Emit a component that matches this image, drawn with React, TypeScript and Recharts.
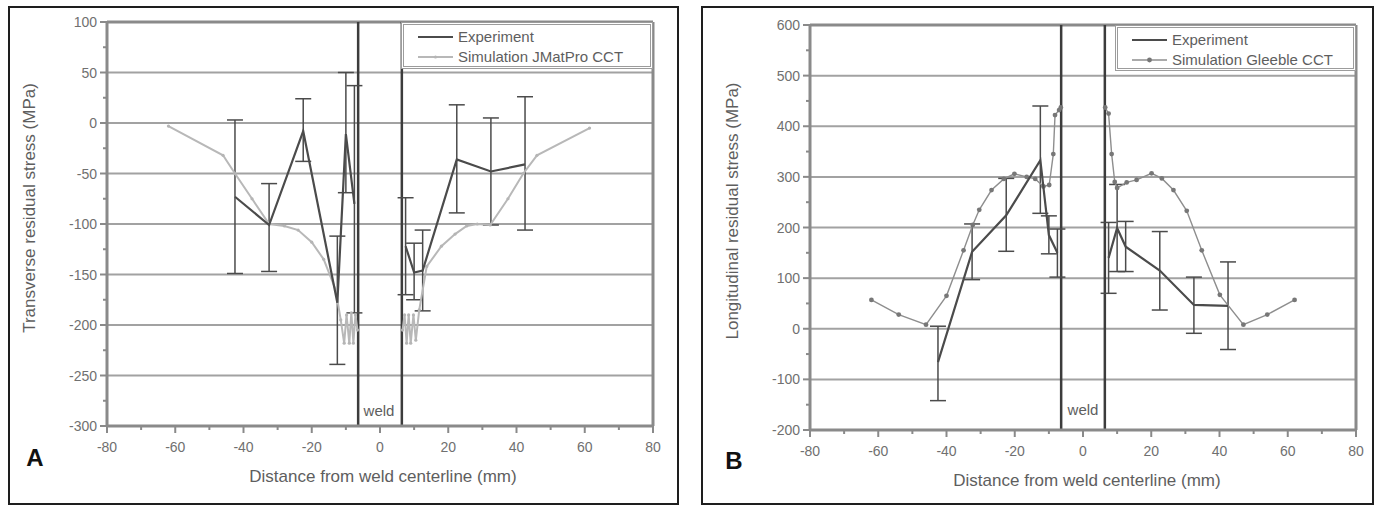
import React from "react";
import { ScatterChart, Scatter, XAxis, YAxis, ErrorBar, ReferenceLine } from "recharts";

const FONT = '"Liberation Sans", Arial, sans-serif';

const xTicks = [-80, -70, -60, -50, -40, -30, -20, -10, 0, 10, 20, 30, 40, 50, 60, 70, 80];
const xMajor = [-80, -60, -40, -20, 0, 20, 40, 60, 80];

const yTicksA = [-300, -275, -250, -225, -200, -175, -150, -125, -100, -75, -50, -25, 0, 25, 50, 75, 100];
const yMajorA = [-300, -250, -200, -150, -100, -50, 0, 50, 100];
const yTicksB = [-200, -150, -100, -50, 0, 50, 100, 150, 200, 250, 300, 350, 400, 450, 500, 550, 600];
const yMajorB = [-200, -100, 0, 100, 200, 300, 400, 500, 600];

const weldEdges = [-6.4, 6.4];

// Panel A - transverse, experiment
const expAL_x = [-42.5, -32.5, -22.5, -12.5, -10, -7.5];
const expAL_y = [-73, -101, -8, -178, -11, -80];
const expAL_top = [3, -60, 24, -112, 50, 37];
const expAL_bot = [-149, -147, -38, -239, -69, -188];
const expAR_x = [7.5, 10, 12.5, 22.5, 32.5, 42.5];
const expAR_y = [-122, -148, -146, -36, -48, -41];
const expAR_top = [-74, -119, -106, 18, 5, 26];
const expAR_bot = [-170, -175, -186, -89, -101, -106];

// Panel A - simulation JMatPro CCT
const simAL_x = [-62, -46, -42.5, -37.5, -32.5, -28, -24, -20, -16.5, -13, -11.5, -10.5, -9.8, -9, -8.4, -7.8, -7.2, -6.6];
const simAL_y = [-3, -32, -50, -75, -100, -102, -106, -118, -135, -165, -195, -218, -190, -218, -188, -218, -190, -205];
const simAR_x = [6.6, 7.2, 7.8, 8.4, 9, 9.8, 10.5, 11.5, 13.7, 18, 22, 25.4, 28.5, 32.3, 37.5, 42, 46, 61.4];
const simAR_y = [-205, -190, -218, -190, -218, -190, -215, -185, -142, -122, -110, -102, -100, -101, -75, -50, -32, -5];

// Panel B - longitudinal, experiment
const expBL_x = [-42.5, -32.5, -22.5, -12.5, -10, -7.5];
const expBL_y = [-66, 152, 224, 333, 185, 150];
const expBL_top = [5, 207, 297, 440, 223, 197];
const expBL_bot = [-142, 97, 153, 228, 148, 102];
const expBR_x = [7.5, 10, 12.5, 22.5, 32.5, 42.5];
const expBR_y = [140, 199, 162, 115, 47, 45];
const expBR_top = [210, 285, 212, 192, 102, 132];
const expBR_bot = [70, 113, 113, 37, -9, -41];

// Panel B - simulation Gleeble CCT
const simBL_x = [-62, -54, -46, -40, -35, -32.3, -30.4, -26.8, -23.2, -20.1, -16.5, -14, -11.6, -9.9, -8.7, -8.2, -7, -6.5];
const simBL_y = [57, 28, 8, 65, 155, 205, 235, 274, 296, 306, 300, 296, 281, 284, 345, 422, 432, 437];
const simBR_x = [6.5, 7.5, 8.4, 9.3, 10, 12.8, 15.7, 20.1, 23.1, 26.5, 30.4, 34.8, 40.1, 47, 54, 62];
const simBR_y = [437, 425, 345, 290, 278, 289, 294, 307, 297, 274, 233, 155, 67, 8, 28, 57];

const pts = (xs: number[], ys: number[]) => xs.map((x, i) => ({ x, y: ys[i] }));
const withErr = (xs: number[], ys: number[], tops: number[], bots: number[]) =>
  xs.map((x, i) => ({ x, y: ys[i], err: [ys[i] - bots[i], tops[i] - ys[i]] }));

const AXIS = "#8a8a8a";
const GRID = "#a2a2a2";
const EXP = "#4b4b4b";
const TEXT = "#5e5e5e";

const makeYTick = (major: number[]) => (props: any) => {
  const { x, y, payload } = props;
  const isMajor = major.includes(payload.value);
  return (
    <g>
      <line x1={x - (isMajor ? 7 : 4)} y1={y} x2={x} y2={y} stroke={AXIS} strokeWidth={2} />
      {isMajor && (
        <text x={x - 10} y={y} textAnchor="end" dominantBaseline="central" fontSize={14} fill="#707070" fontFamily={FONT}>
          {payload.value}
        </text>
      )}
    </g>
  );
};

const XTick = (props: any) => {
  const { x, y, payload } = props;
  const isMajor = xMajor.includes(payload.value);
  return (
    <g>
      <line x1={x} y1={y} x2={x} y2={y + (isMajor ? 7 : 4)} stroke={AXIS} strokeWidth={2} />
      {isMajor && (
        <text x={x} y={y + 21} textAnchor="middle" dominantBaseline="central" fontSize={14} fill="#707070" fontFamily={FONT}>
          {payload.value}
        </text>
      )}
    </g>
  );
};

const noShape = () => <g />;

interface PanelProps {
  box: { left: number; top: number; width: number; height: number };
  plot: { left: number; top: number; right: number; bottom: number };
  yDomain: [number, number];
  yTicks: number[];
  yMajor: number[];
  exp: { x: number; y: number; err: number[] }[][];
  sim: { x: number; y: number }[][];
  simColor: string;
  simWidth: number;
  simMarker: (p: any) => React.ReactElement;
  yTitle: string;
  yTitlePos: [number, number];
  xTitlePos: [number, number];
  letter: string;
  letterPos: [number, number];
  weldPos: [number, number];
  legend: { left: number; top: number; width: number; height: number };
  simLabel: string;
  markerColor: string;
  markerR: number;
}

function Panel(p: PanelProps) {
  const { box, plot } = p;
  return (
    <>
      <div
        style={{
          position: "absolute",
          left: box.left,
          top: box.top,
          width: box.width,
          height: box.height,
          border: "2px solid #1e1e1e",
          boxSizing: "border-box",
        }}
      />
      <div style={{ position: "absolute", left: box.left, top: box.top }}>
        <ScatterChart
          width={box.width}
          height={box.height}
          margin={{ top: plot.top - box.top, right: box.left + box.width - plot.right, left: 0, bottom: 0 }}
        >
          <XAxis
            type="number"
            dataKey="x"
            domain={[-80, 80]}
            ticks={xTicks}
            interval={0}
            height={box.top + box.height - plot.bottom}
            tickSize={0}
            tickMargin={0}
            tickLine={false}
            tick={XTick}
            axisLine={{ stroke: AXIS, strokeWidth: 3 }}
            allowDataOverflow
          />
          <YAxis
            type="number"
            dataKey="y"
            domain={p.yDomain}
            ticks={p.yTicks}
            interval={0}
            width={plot.left - box.left}
            tickSize={0}
            tickMargin={0}
            tickLine={false}
            tick={makeYTick(p.yMajor)}
            axisLine={{ stroke: AXIS, strokeWidth: 3 }}
            allowDataOverflow
          />
          {p.yMajor.slice(1, -1).map((v) => (
            <ReferenceLine key={v} y={v} stroke={GRID} strokeWidth={2} />
          ))}
          <ReferenceLine y={p.yDomain[1]} stroke={AXIS} strokeWidth={3} />
          <ReferenceLine x={80} stroke={AXIS} strokeWidth={3} />
          {weldEdges.map((w) => (
            <ReferenceLine key={w} x={w} stroke="#3c3c3c" strokeWidth={2.5} />
          ))}
          {p.sim.map((d, i) => (
            <Scatter
              key={"s" + i}
              data={d}
              line={{ stroke: p.simColor, strokeWidth: p.simWidth }}
              shape={p.simMarker}
              isAnimationActive={false}
            />
          ))}
          {p.exp.map((d, i) => (
            <Scatter
              key={"e" + i}
              data={d}
              line={{ stroke: EXP, strokeWidth: 2.2 }}
              shape={noShape}
              isAnimationActive={false}
            >
              <ErrorBar dataKey="err" direction="y" width={8} stroke={EXP} strokeWidth={1.5} isAnimationActive={false} />
            </Scatter>
          ))}
        </ScatterChart>
      </div>
      <div
        style={{
          position: "absolute",
          left: p.legend.left,
          top: p.legend.top,
          width: p.legend.width,
          height: p.legend.height,
          border: "3px double #9c9c9c",
          boxSizing: "border-box",
          background: "#fff",
          fontFamily: FONT,
          fontSize: 15,
          color: TEXT,
        }}
      >
        <svg width={40} height={40} style={{ position: "absolute", left: 12, top: 0 }}>
          <line x1={2} y1={12} x2={37} y2={12} stroke={EXP} strokeWidth={2.2} />
          <line x1={2} y1={32} x2={37} y2={32} stroke={p.simColor} strokeWidth={p.simWidth} />
          <circle cx={19.5} cy={32} r={p.markerR} fill={p.markerColor} />
        </svg>
        <div style={{ position: "absolute", left: 54, top: 3, lineHeight: "18px" }}>Experiment</div>
        <div style={{ position: "absolute", left: 54, top: 23, lineHeight: "18px", whiteSpace: "nowrap" }}>
          {p.simLabel}
        </div>
      </div>
      <div
        style={{
          position: "absolute",
          left: p.yTitlePos[0],
          top: p.yTitlePos[1],
          transform: "translate(-50%, -50%) rotate(-90deg)",
          whiteSpace: "nowrap",
          fontFamily: FONT,
          fontSize: 17,
          color: TEXT,
        }}
      >
        {p.yTitle}
      </div>
      <div
        style={{
          position: "absolute",
          left: p.xTitlePos[0],
          top: p.xTitlePos[1],
          transform: "translate(-50%, -50%)",
          whiteSpace: "nowrap",
          fontFamily: FONT,
          fontSize: 17,
          color: TEXT,
        }}
      >
        Distance from weld centerline (mm)
      </div>
      <div
        style={{
          position: "absolute",
          left: p.weldPos[0],
          top: p.weldPos[1],
          transform: "translate(-50%, -50%)",
          fontFamily: FONT,
          fontSize: 15,
          color: TEXT,
        }}
      >
        weld
      </div>
      <div
        style={{
          position: "absolute",
          left: p.letterPos[0],
          top: p.letterPos[1],
          transform: "translate(-50%, -50%)",
          fontFamily: FONT,
          fontSize: 24,
          fontWeight: "bold",
          color: "#111",
        }}
      >
        {p.letter}
      </div>
    </>
  );
}

const markerA = (props: any) => <circle cx={props.cx} cy={props.cy} r={1.6} fill="#b5b5b5" />;
const markerB = (props: any) => <circle cx={props.cx} cy={props.cy} r={2.4} fill="#777" />;

export default function App() {
  return (
    <div style={{ position: "absolute", left: 0, top: 0, width: 1381, height: 506, background: "#fff" }}>
      <Panel
        box={{ left: 8, top: 6, width: 671, height: 499 }}
        plot={{ left: 107, top: 22, right: 653, bottom: 426 }}
        yDomain={[-300, 100]}
        yTicks={yTicksA}
        yMajor={yMajorA}
        exp={[
          withErr(expAL_x, expAL_y, expAL_top, expAL_bot),
          withErr(expAR_x, expAR_y, expAR_top, expAR_bot),
        ]}
        sim={[pts(simAL_x, simAL_y), pts(simAR_x, simAR_y)]}
        simColor="#b8b8b8"
        simWidth={2}
        simMarker={markerA}
        yTitle="Transverse residual stress (MPa)"
        yTitlePos={[30, 208]}
        xTitlePos={[383, 477]}
        letter="A"
        letterPos={[35, 458]}
        weldPos={[379, 410]}
        legend={{ left: 401, top: 22, width: 252, height: 47 }}
        simLabel="Simulation JMatPro CCT"
        markerColor="#b5b5b5"
        markerR={1.6}
      />
      <Panel
        box={{ left: 701, top: 6, width: 673, height: 499 }}
        plot={{ left: 810, top: 25, right: 1356, bottom: 430 }}
        yDomain={[-200, 600]}
        yTicks={yTicksB}
        yMajor={yMajorB}
        exp={[
          withErr(expBL_x, expBL_y, expBL_top, expBL_bot),
          withErr(expBR_x, expBR_y, expBR_top, expBR_bot),
        ]}
        sim={[pts(simBL_x, simBL_y), pts(simBR_x, simBR_y)]}
        simColor="#8e8e8e"
        simWidth={1.4}
        simMarker={markerB}
        yTitle="Longitudinal residual stress (MPa)"
        yTitlePos={[733, 211]}
        xTitlePos={[1087, 481]}
        letter="B"
        letterPos={[734, 461]}
        weldPos={[1083, 409]}
        legend={{ left: 1115, top: 25, width: 241, height: 46 }}
        simLabel="Simulation Gleeble CCT"
        markerColor="#777"
        markerR={2.4}
      />
    </div>
  );
}
